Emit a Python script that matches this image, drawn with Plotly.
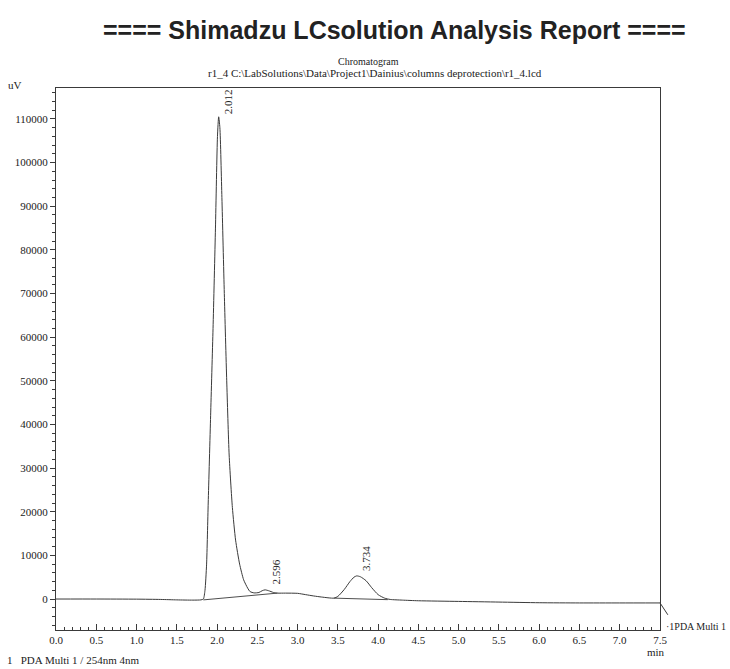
import plotly.graph_objects as go

# Chromatogram trace (time in min, signal in uV)
time_min = [0.0, 0.5, 1.0, 1.3, 1.5, 1.7, 1.80, 1.83, 1.85, 1.87, 1.89, 1.92, 1.95, 1.98,
            2.005, 2.02, 2.035, 2.06, 2.09, 2.12, 2.15, 2.19, 2.23, 2.28, 2.33, 2.38,
            2.41, 2.46, 2.52, 2.56, 2.596, 2.64, 2.70, 2.75, 2.85, 3.0, 3.1, 3.2, 3.3, 3.45,
            3.5, 3.58, 3.65, 3.70, 3.734, 3.78, 3.85, 3.92, 4.0, 4.08, 4.15, 4.3, 4.5, 5.0,
            5.5, 6.0, 6.5, 7.0, 7.5]
signal_uv = [0, 0, -30, -100, -200, -250, -200, 0, 2000, 8000, 22000, 42000, 62000, 85000,
             106000, 110500, 108000, 92000, 70000, 50000, 33000, 21000, 13500, 8000,
             4400, 2500, 1700, 1400, 1500, 1900, 2100, 1900, 1500, 1350, 1350, 1300, 1000,
             700, 450, 200, 600, 2200, 4000, 5000, 5300, 5100, 4200, 2600, 1000, 200, -100,
             -250, -400, -550, -700, -850, -900, -900, -900]

# Integration baselines
base1_t = [1.83, 2.75]
base1_v = [-200, 1350]
base2_t = [3.45, 4.12]
base2_v = [200, -150]

# Peak labels
peak_times = [2.012, 2.596, 3.734]
peak_label_y = [110500, 2750, 6000]
peak_labels = ["2.012", "2.596", "3.734"]

x_tickvals = [0.0, 0.5, 1.0, 1.5, 2.0, 2.5, 3.0, 3.5, 4.0, 4.5, 5.0, 5.5, 6.0, 6.5, 7.0, 7.5]
y_tickvals = [0, 10000, 20000, 30000, 40000, 50000, 60000, 70000, 80000, 90000, 100000, 110000]

LINE = "#3a3a3a"
SERIF = "Liberation Serif"

fig = go.Figure()
fig.add_trace(go.Scatter(x=time_min, y=signal_uv, mode="lines",
                         line=dict(color=LINE, width=1, smoothing=0.6), line_shape="spline",
                         hoverinfo="skip", showlegend=False))
fig.add_trace(go.Scatter(x=base1_t, y=base1_v, mode="lines",
                         line=dict(color=LINE, width=0.9), showlegend=False, hoverinfo="skip"))
fig.add_trace(go.Scatter(x=base2_t, y=base2_v, mode="lines",
                         line=dict(color=LINE, width=0.9), showlegend=False, hoverinfo="skip"))

annotations = []
for t, v, lab in zip(peak_times, peak_label_y, peak_labels):
    annotations.append(dict(x=t, y=v, xref="x", yref="y", text=lab, textangle=-90,
                            showarrow=False, xanchor="center", yanchor="bottom",
                            xshift=10, font=dict(family=SERIF, size=11, color="#222")))

annotations += [
    dict(x=0.561, y=1.107, xref="paper", yref="paper", showarrow=False,
         text="<b>==== Shimadzu LCsolution Analysis Report ====</b>",
         font=dict(family="Liberation Sans", size=25, color="#222"), xanchor="center", yanchor="middle"),
    dict(x=0.518, y=1.049, xref="paper", yref="paper", showarrow=False, text="Chromatogram",
         font=dict(family=SERIF, size=10, color="#222"), xanchor="center", yanchor="middle"),
    dict(x=0.528, y=1.027, xref="paper", yref="paper", showarrow=False,
         text="r1_4 C:\\LabSolutions\\Data\\Project1\\Dainius\\columns deprotection\\r1_4.lcd",
         font=dict(family=SERIF, size=11, color="#222"), xanchor="center", yanchor="middle"),
    dict(x=-0.068, y=1.006, xref="paper", yref="paper", showarrow=False, text="uV",
         font=dict(family=SERIF, size=11, color="#222"), xanchor="center", yanchor="middle"),
    dict(x=0.993, y=-0.041, xref="paper", yref="paper", showarrow=False, text="min",
         font=dict(family=SERIF, size=11, color="#222"), xanchor="center", yanchor="middle"),
    dict(x=-0.084, y=-0.055, xref="paper", yref="paper", showarrow=False,
         text="1&nbsp;&nbsp;&nbsp;PDA Multi 1 / 254nm 4nm",
         font=dict(family=SERIF, size=11, color="#222"), xanchor="left", yanchor="middle"),
    dict(x=1.006, y=0.006, xref="paper", yref="paper", showarrow=False, text="·1PDA Multi 1",
         font=dict(family=SERIF, size=10, color="#222"), xanchor="left", yanchor="middle"),
]

fig.add_shape(type="line", xref="paper", yref="paper", x0=1.0, y0=0.05, x1=1.013, y1=0.028,
              line=dict(color=LINE, width=1))

fig.update_layout(
    width=730, height=669,
    margin=dict(l=56, r=70, t=88, b=39),
    paper_bgcolor="white", plot_bgcolor="white",
    annotations=annotations,
    showlegend=False,
)
fig.update_xaxes(range=[0, 7.5], tickvals=x_tickvals, ticktext=[f"{v:.1f}" for v in x_tickvals],
                 ticks="inside", ticklen=6, tickcolor=LINE, showgrid=False, zeroline=False,
                 showline=True, linecolor=LINE, linewidth=1, mirror=True,
                 minor=dict(dtick=0.1, tick0=0, ticks="inside", ticklen=3, tickcolor=LINE, showgrid=False),
                 tickfont=dict(family=SERIF, size=11, color="#222"))
fig.update_yaxes(range=[-7100, 117100], tickvals=y_tickvals, ticktext=[str(v) for v in y_tickvals],
                 ticks="outside", ticklen=5,
                 tickcolor=LINE, showgrid=False, zeroline=False,
                 showline=True, linecolor=LINE, linewidth=1, mirror=True,
                 minor=dict(dtick=2000, tick0=0, ticks="outside", ticklen=3, tickcolor=LINE, showgrid=False),
                 tickfont=dict(family=SERIF, size=11, color="#222"))

fig.write_html("out.html")
